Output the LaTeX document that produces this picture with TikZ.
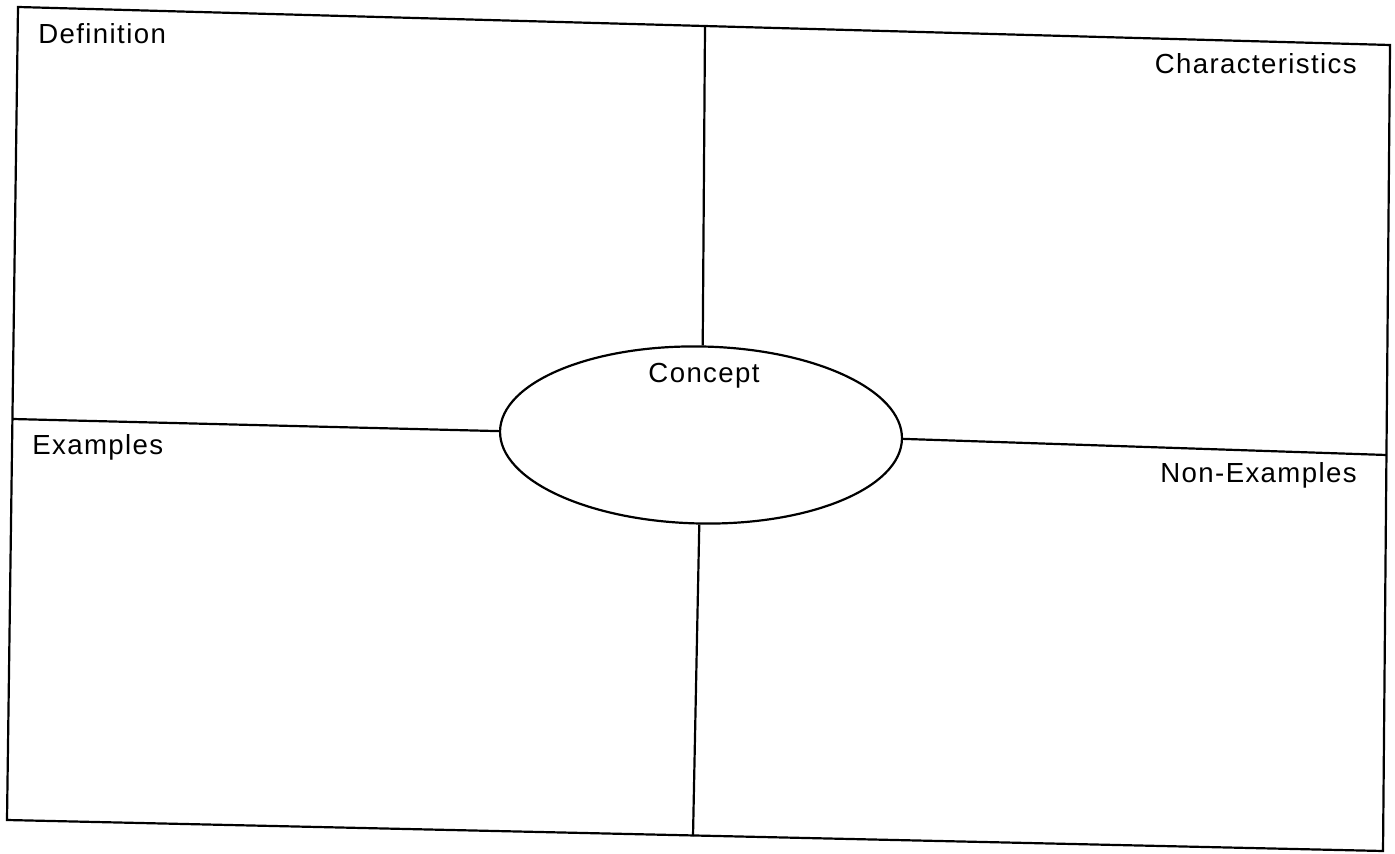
\documentclass[tikz,border=0pt]{standalone}
\usepackage{fontspec}
\setmainfont{Liberation Sans}[LetterSpace=5]
\usetikzlibrary{shapes.geometric}
\begin{document}
\begin{tikzpicture}[x=0.5pt,y=-0.5pt,
  frame/.style={line width=1.1pt,line join=miter},
  divider/.style={line width=1.1pt},
  lbl/.style={inner sep=0pt,font=\fontsize{13.8pt}{16pt}\selectfont},
  conceptshape/.style={ellipse,draw,line width=1.1pt,inner sep=0pt,
    minimum width=201pt,minimum height=88.5pt,rotate=-1.1}]
\useasboundingbox (0,0) rectangle (1395,854);
\fill[white] (0,0) rectangle (1395,854);
% outer frame corners
\coordinate (TL) at (18,7);
\coordinate (TR) at (1390,45);
\coordinate (BR) at (1383,851);
\coordinate (BL) at (7,820);
\draw[frame] (TL) -- (TR) -- (BR) -- (BL) -- cycle;
% central ellipse
\node[conceptshape] (ell) at (701,435) {};
% divider end points on the frame
\coordinate (vtop) at (705,26);
\coordinate (vbot) at (693,836);
\coordinate (hleft) at (12.4,419);
\coordinate (hright) at (1386.5,455);
\draw[divider] (vtop) -- (ell.north);
\draw[divider] (ell.south) -- (vbot);
\draw[divider] (hleft) -- (ell.west);
\draw[divider] (ell.east) -- (hright);
% labels
\node[lbl,anchor=base west] (def) at (38,44) {Definition};
\node[lbl,anchor=base east] (cha) at (1357,74) {Characteristics};
\node[lbl,anchor=base] (con) at (704,383) {Concept};
\node[lbl,anchor=base west] (exa) at (32,455) {Examples};
\node[lbl,anchor=base east] (non) at (1357,483) {Non-Examples};
\end{tikzpicture}
\end{document}
